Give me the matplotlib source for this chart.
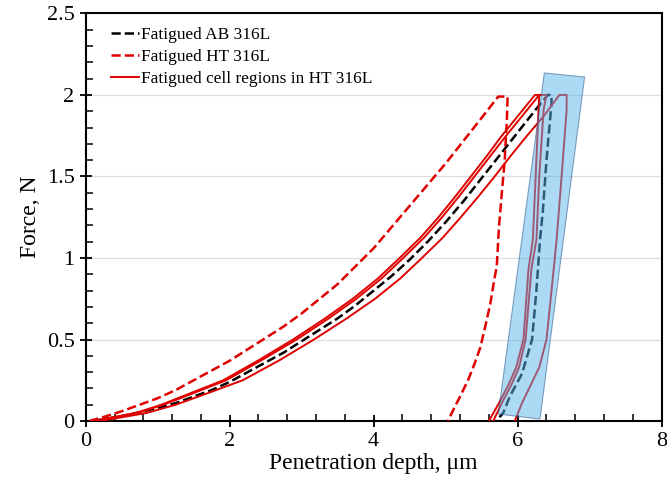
import numpy as np
import matplotlib.pyplot as plt
from matplotlib.patches import Polygon
from matplotlib.ticker import MultipleLocator

plt.rcParams['font.family'] = ['Liberation Serif', 'DejaVu Serif']

# Fatigued AB 316L (black dashed): loading, hold, unloading
ab_h = [0.10, 0.50, 0.75, 1.00, 1.25, 1.50, 1.75, 2.00, 2.25, 2.50, 2.75, 3.00, 3.25, 3.50,
        3.75, 4.00, 4.25, 4.50, 4.75, 5.00, 5.25, 5.50, 5.75, 6.00, 6.25, 6.42,
        6.47, 6.47, 6.44, 6.40, 6.35, 6.31, 6.26, 6.20, 6.06, 5.89, 5.80, 5.70]
ab_f = [0.00, 0.03, 0.055, 0.08, 0.11, 0.15, 0.19, 0.24, 0.30, 0.36, 0.42, 0.49, 0.56, 0.63,
        0.71, 0.80, 0.89, 0.99, 1.10, 1.22, 1.35, 1.49, 1.63, 1.77, 1.91, 2.00,
        2.00, 1.95, 1.80, 1.60, 1.29, 1.11, 0.80, 0.50, 0.29, 0.15, 0.05, 0.00]

# Fatigued HT 316L (red dashed)
ht_h = [0.05, 0.25, 0.50, 0.75, 1.00, 1.25, 1.50, 1.75, 2.00, 2.25, 2.50, 2.75, 3.00, 3.25,
        3.50, 3.75, 4.00, 4.25, 4.50, 4.75, 5.00, 5.25, 5.50, 5.73,
        5.86, 5.85, 5.82, 5.78, 5.74, 5.71, 5.68, 5.62, 5.55, 5.48, 5.40, 5.31, 5.20, 5.13, 5.03]
ht_f = [0.00, 0.025, 0.06, 0.10, 0.14, 0.19, 0.25, 0.31, 0.37, 0.44, 0.51, 0.58, 0.66, 0.75,
        0.84, 0.95, 1.06, 1.19, 1.32, 1.45, 1.58, 1.72, 1.86, 1.99,
        1.99, 1.85, 1.60, 1.40, 1.19, 0.95, 0.88, 0.72, 0.58, 0.45, 0.35, 0.25, 0.15, 0.09, 0.00]

# Fatigued cell regions in HT 316L (red solid, three indents)
cell_load_f = [0.00, 0.05, 0.10, 0.175, 0.25, 0.375, 0.50, 0.625, 0.75, 0.875, 1.00,
               1.125, 1.25, 1.375, 1.50, 1.625, 1.75, 1.875, 2.00]
cell_unload_f = [2.00, 1.91, 1.50, 1.11, 0.93, 0.50, 0.33, 0.22, 0.11, 0.00]

cell_a_load_h = [0.10, 0.70, 1.05, 1.48, 1.91, 2.41, 2.88, 3.31, 3.71, 4.06, 4.36,
                 4.65, 4.90, 5.13, 5.35, 5.57, 5.78, 6.01, 6.24]
cell_a_unload_h = [6.30, 6.29, 6.25, 6.21, 6.15, 6.08, 5.98, 5.87, 5.74, 5.60]

cell_b_load_h = [0.12, 0.72, 1.08, 1.52, 1.95, 2.45, 2.93, 3.36, 3.76, 4.11, 4.41,
                 4.70, 4.95, 5.18, 5.40, 5.62, 5.84, 6.07, 6.30]
cell_b_unload_h = [6.40, 6.36, 6.30, 6.26, 6.19, 6.11, 6.02, 5.91, 5.78, 5.66]

cell_c_load_h = [0.20, 0.85, 1.25, 1.72, 2.18, 2.70, 3.17, 3.61, 4.02, 4.37, 4.67,
                 4.96, 5.21, 5.45, 5.68, 5.90, 6.13, 6.37, 6.58]
cell_c_unload_h = [6.68, 6.68, 6.61, 6.54, 6.50, 6.40, 6.30, 6.18, 6.06, 5.96]

# highlighted unloading band
band_h = [6.37, 6.93, 6.31, 5.73]
band_f = [2.135, 2.11, 0.012, 0.043]

x_ticks = [0, 2, 4, 6, 8]
y_ticks = [0, 0.5, 1, 1.5, 2, 2.5]
y_labels = ['0', '0.5', '1', '1.5', '2', '2.5']

red = '#e00000'

fig = plt.figure(figsize=(6.67, 4.79), dpi=100)
ax = fig.add_axes([0.1285, 0.121, 0.8635, 0.851])

ax.plot(ab_h, ab_f, color='black', linestyle='--', linewidth=1.8, label='Fatigued AB 316L', zorder=3)
ax.plot(ht_h, ht_f, color=red, linestyle='--', linewidth=1.8, label='Fatigued HT 316L', zorder=3)

cells = [(cell_a_load_h, cell_a_unload_h),
         (cell_b_load_h, cell_b_unload_h),
         (cell_c_load_h, cell_c_unload_h)]
for i, (load_h, unload_h) in enumerate(cells):
    ax.plot(load_h + unload_h, cell_load_f + cell_unload_f, color=red, linewidth=1.4, zorder=3,
            label='Fatigued cell regions in HT 316L' if i == 0 else None)

band = Polygon(list(zip(band_h, band_f)), closed=True, facecolor='#5ab4ea', alpha=0.5,
               edgecolor='#1f4f8a', linewidth=0.8, zorder=4)
ax.add_patch(band)

ax.set_xlim(0, 8)
ax.set_ylim(0, 2.5)
ax.set_xticks(x_ticks)
ax.set_yticks(y_ticks)
ax.set_yticklabels(y_labels)
ax.xaxis.set_minor_locator(MultipleLocator(0.4))
ax.yaxis.set_minor_locator(MultipleLocator(0.1))
ax.tick_params(which='major', direction='inout', length=9, width=1.3, labelsize=16)
ax.tick_params(which='minor', direction='in', length=5, width=1.1)
ax.grid(True, axis='y', color='#dddddd', linewidth=0.9)
ax.set_axisbelow(True)
for s in ax.spines.values():
    s.set_linewidth(1.5)

ax.set_xlabel('Penetration depth, μm', fontsize=17, labelpad=1)
ax.set_ylabel('Force, N', fontsize=17, labelpad=4)

leg = ax.legend(loc='upper left', bbox_to_anchor=(0.02, 1.0), frameon=False, fontsize=12.4,
                handlelength=1.6, handletextpad=0.15, labelspacing=0.35, borderaxespad=0.4)

fig.savefig('out.png', dpi=100)
